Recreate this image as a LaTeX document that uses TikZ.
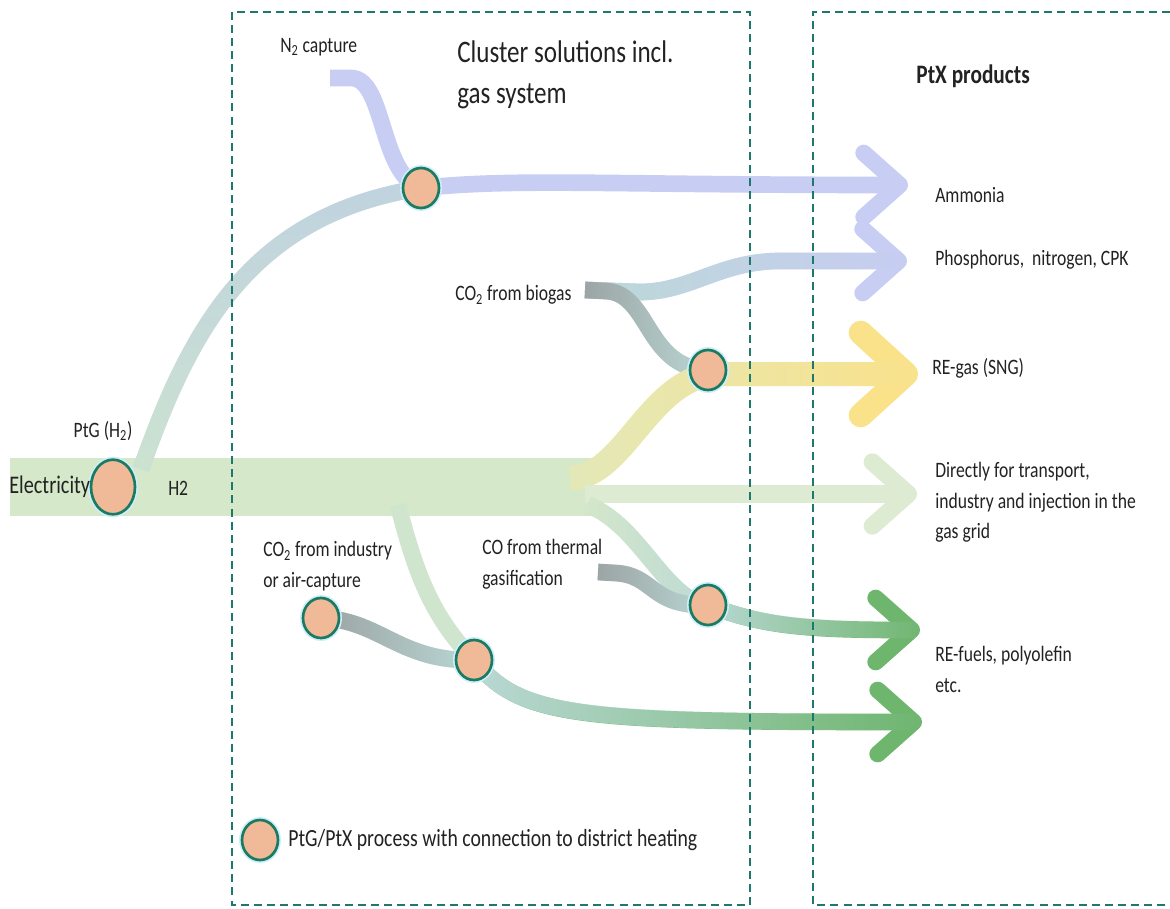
\documentclass[tikz,border=0pt]{standalone}
\usepackage{fontspec}
\setmainfont{Carlito}[FakeStretch=0.8]
\usepackage{tikz}
\usetikzlibrary{arrows.meta}
\usetikzlibrary{shapes.geometric}
\usetikzlibrary{positioning}
\usetikzlibrary{backgrounds}
\usetikzlibrary{fadings}
\usepackage{xcolor}
\definecolor{dashteal}{HTML}{1E786E}
\definecolor{ringteal}{HTML}{1B7A60}
\definecolor{peach}{HTML}{F0B998}
\definecolor{hgreen}{HTML}{D5E8CA}
\definecolor{directgreen}{HTML}{DCEBD2}
\definecolor{lavend}{HTML}{C8CDF3}
\definecolor{steel}{HTML}{C0D3E0}
\definecolor{sage}{HTML}{CDE4D0}
\definecolor{teallight}{HTML}{BBD9D6}
\definecolor{stubgrey}{HTML}{9AA2A2}
\definecolor{sunyellow}{HTML}{FAE28A}
\definecolor{paleyellow}{HTML}{E3E9BA}
\definecolor{leafgreen}{HTML}{6EB56E}
\definecolor{txtblack}{HTML}{222222}
\tikzset{every node/.style={text=txtblack}}
\tikzstyle{proc} = [ellipse, draw=ringteal, line width=2pt, fill=peach, minimum width=27pt, minimum height=30pt, inner sep=0pt, preaction={draw=cyan!20, line width=4.5pt}]
\tikzstyle{bigproc} = [proc, minimum width=33pt, minimum height=41pt]
\tikzstyle{zone} = [draw=dashteal, line width=1.5pt, dash pattern=on 6pt off 3.8pt]
\tikzstyle{flow} = [line width=12.5pt]
\tikzstyle{head} = [-{Straight Barb[length=27pt, width=48pt, round]}]
\tikzstyle{bighead} = [-{Straight Barb[length=34pt, width=62pt, round]}]
\tikzstyle{lbl} = [anchor=west, inner sep=0pt, align=left, font={\fontsize{16.5}{23}\selectfont}]
\tikzstyle{hdr} = [lbl, font={\fontsize{23.5}{31}\selectfont}]

\begin{document}
\begin{tikzpicture}[x=0.75pt, y=-0.75pt]
  \useasboundingbox (0,0) rectangle (1170,909);

  % Define zones
  \draw[zone] (232,12) rectangle (750,905);
  \draw[zone] (1170,12) -- (813,12) -- (813,905) -- (1170,905);

  % Define process circles
  \node[bigproc] (ptg) at (113,487) {};
  \node[proc] (njoin) at (421,188) {};
  \node[proc] (sngjoin) at (708,370) {};
  \node[proc] (cojoin) at (708,605) {};
  \node[proc] (indjoin) at (474,660) {};
  \node[proc] (indsrc) at (321,618) {};
  \node[proc] (legdot) at (260,840) {};

  % Define flow ends
  \coordinate (elecin) at (10,487);
  \coordinate (h2end) at (592,487);
  \coordinate (n2in) at (330,78);
  \coordinate (biogasin) at (585,290);
  \coordinate (coin) at (598,572);
  \coordinate (ammoniatip) at (908,185);
  \coordinate (phostip) at (907,261);
  \coordinate (sngtip) at (918,374);
  \coordinate (directtip) at (917,494);
  \coordinate (fueltip) at (920,630);
  \coordinate (polytip) at (922,722);

  % Define labels
  \node[lbl, font={\fontsize{19}{23}\selectfont}] (elec) at (9,487) {Electricity};
  \node[lbl] (h2) at (168,488) {H2};
  \node[lbl, anchor=center] (ptglbl) at (103,431) {PtG (H\textsubscript{2})};
  \node[lbl] (n2) at (280,47) {N\textsubscript{2} capture};
  \node[hdr, anchor=north west] (cluster) at (457,40) {Cluster solutions incl.\\gas system};
  \node[lbl, font={\bfseries\fontsize{20}{23}\selectfont}] (ptx) at (916,76) {PtX products};
  \node[lbl] (ammonia) at (935,195) {Ammonia};
  \node[lbl] (phos) at (935,260) {Phosphorus,\ \ nitrogen, CPK};
  \node[lbl] (sng) at (932,368) {RE-gas (SNG)};
  \node[lbl, anchor=north west] (direct) at (935,462) {Directly for transport,\\industry and injection in the\\gas grid};
  \node[lbl, anchor=north west] (fuels) at (935,646) {RE-fuels, polyolefin\\etc.};
  \node[lbl] (biogas) at (455,295) {CO\textsubscript{2} from biogas};
  \node[lbl, anchor=north west] (industry) at (263,541) {CO\textsubscript{2} from industry\\or air-capture};
  \node[lbl, anchor=north west] (thermal) at (482,539) {CO from thermal\\gasification};
  \node[lbl, font={\fontsize{18.5}{23}\selectfont}] (legend) at (288,840) {PtG/PtX process with connection to district heating};

  % Draw flows
  \begin{pgfonlayer}{background}
    \draw[hgreen, line width=43pt] (elecin) -- (h2end);
    % hydrogen to ammonia
    \draw[flow, steel] (ptg.center) ++(28,-18) .. controls (190,330) and (250,215) .. (njoin.center);
    \draw[flow, sage, path fading=north] (ptg.center) ++(28,-18) .. controls (190,330) and (250,215) .. (njoin.center);
    \draw[flow, lavend] (n2in) -- (352,78) .. controls (385,80) and (380,175) .. (njoin.center);
    \draw[flow, lavend, head] (njoin.center) .. controls (520,178) and (600,185) .. (ammoniatip);
    % biogas
    \draw[flow, lavend, head] (biogasin) -- (640,292) .. controls (690,292) and (720,261) .. (780,261) -- (phostip);
    \draw[flow, teallight, path fading=east] (biogasin) -- (640,292) .. controls (690,292) and (720,261) .. (780,261) -- (phostip);
    \draw[flow, teallight] (biogasin) -- (605,291) .. controls (650,292) and (645,368) .. (sngjoin.center);
    \draw[flow, stubgrey, path fading=east] (biogasin) -- (605,291) .. controls (650,292) and (645,368) .. (sngjoin.center);
    % RE-gas
    \draw[sunyellow, line width=18pt, bighead] (570,478) .. controls (625,478) and (650,374) .. (720,374) -- (sngtip);
    \draw[paleyellow, line width=18pt, path fading=east] (570,478) .. controls (625,478) and (650,374) .. (720,374) -- (sngtip);
    % direct use
    \draw[directgreen, line width=13pt, head] (585,494) -- (directtip);
    % RE-fuels
    \draw[flow, teallight] (588,505) .. controls (640,525) and (665,600) .. (cojoin.center);
    \draw[flow, hgreen, path fading=east] (588,505) .. controls (640,525) and (665,600) .. (cojoin.center);
    \draw[flow, teallight] (coin) -- (615,573) .. controls (655,575) and (650,607) .. (cojoin.center);
    \draw[flow, stubgrey, path fading=east] (coin) -- (615,573) .. controls (655,575) and (650,607) .. (cojoin.center);
    \draw[flow, leafgreen, head] (cojoin.center) .. controls (760,625) and (800,630) .. (fueltip);
    \draw[flow, teallight, path fading=east] (cojoin.center) .. controls (760,625) and (800,630) .. (fueltip);
    % polyolefin
    \draw[flow, hgreen!80!teallight] (398,505) .. controls (415,570) and (430,615) .. (indjoin.center);
    \draw[flow, teallight] (indsrc.center) .. controls (380,620) and (400,662) .. (indjoin.center);
    \draw[flow, stubgrey, path fading=east] (indsrc.center) .. controls (380,620) and (400,662) .. (indjoin.center);
    \draw[flow, leafgreen, head] (indjoin.center) .. controls (520,718) and (580,722) .. (polytip);
    \draw[flow, teallight, path fading=east] (indjoin.center) .. controls (520,718) and (580,722) .. (polytip);
  \end{pgfonlayer}
\end{tikzpicture}
\end{document}
